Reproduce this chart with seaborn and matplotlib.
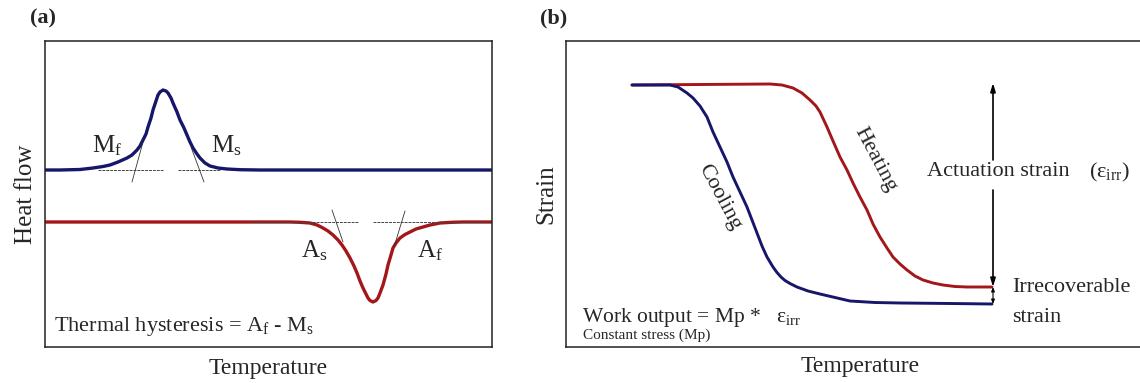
import matplotlib
matplotlib.use("Agg")
import matplotlib.pyplot as plt
import seaborn as sns
import pandas as pd

# ---------------- data ----------------
# Panel (a): DSC heat flow vs temperature (arbitrary units)
cool_T = [0, 15, 35, 48, 58, 65, 73, 82, 87, 92, 95, 98, 101, 103, 106, 108, 111, 113,
          115, 118, 121, 123, 126, 128, 132, 135, 139, 142, 145, 148, 152, 155, 160, 165,
          173, 182, 195, 215, 447]
cool_H = [177, 177, 177.5, 179, 180.5, 182, 185, 189, 192, 197, 201, 207, 213, 220, 229,
          237, 246, 252, 255, 257, 256, 254, 249, 244, 235, 227, 219, 212, 205, 199, 193,
          189, 184, 181, 179, 178, 177.3, 177, 177]
heat_T = [0, 245, 255, 265, 272, 278, 283, 288, 293, 297, 301, 305, 309, 312, 315, 318,
          321, 323, 325, 328, 331, 333, 335, 338, 341, 343, 346, 348, 351, 355, 360, 365,
          371, 378, 385, 395, 407, 418, 447]
heat_H = [125, 125, 124.7, 124, 122, 119, 116, 112, 107, 102, 96, 89, 81, 74, 66, 59, 53,
          49, 46.5, 45, 46.5, 49, 54, 62, 73, 82, 92, 99, 104, 109, 112.5, 115, 118, 120,
          122, 124, 124.7, 125, 125]
# tangent construction lines (onset / finish)
tan_blue = [((87, 165), (98, 205)), ((146, 200), (159, 165))]
tan_red = [((287, 137), (298, 105)), ((360, 136), (349, 100))]
base_blue = [(53, 118), (133, 175)]
base_red = [(205, 313), (328, 445)]
base_blue_y = 177
base_red_y = 125
labels_a = [(r"$\mathrm{M}_{\mathrm{f}}$", 47, 195), (r"$\mathrm{M}_{\mathrm{s}}$", 166, 195),
            (r"$\mathrm{A}_{\mathrm{s}}$", 256, 90), (r"$\mathrm{A}_{\mathrm{f}}$", 372, 90)]

# Panel (b): strain vs temperature
heatb_T = [66, 134, 204, 216, 227, 236, 244, 250, 254, 261, 267, 274, 281, 287, 294, 301,
           307, 314, 321, 327, 334, 341, 349, 357, 367, 377, 389, 401, 426]
heatb_S = [262, 262.5, 263, 262, 259, 254, 247, 241, 235, 220, 206, 190, 177, 164, 150,
           137, 123, 110, 99, 90, 83, 77, 71, 67, 64, 62, 60.5, 60, 60]
coolb_T = [66, 104, 112, 121, 127, 134, 141, 147, 154, 161, 167, 174, 181, 186, 191, 196,
           201, 207, 211, 215, 219, 224, 231, 242, 254, 284, 309, 334, 384, 426]
coolb_S = [262, 262, 260, 254, 249, 241, 230, 215, 200, 185, 170, 155, 140, 127, 114, 101,
           90, 80, 74.5, 70, 66.5, 63.5, 60, 56, 53, 46, 44.5, 44, 43.5, 43]
arrow_x = 427
act_top, act_gap_top, act_gap_bot, act_bot, irr_bot = 264, 187, 157, 60, 43

# ---------------- style ----------------
sns.set_style("white")
plt.rcParams["font.family"] = ["Liberation Serif", "DejaVu Serif"]
plt.rcParams["mathtext.fontset"] = "custom"
plt.rcParams["mathtext.rm"] = "Liberation Serif"
plt.rcParams["mathtext.it"] = "Liberation Serif:italic"
plt.rcParams["mathtext.bf"] = "Liberation Serif:bold"

BLUE = "#16166a"
RED = "#a3161a"
W, H = 1140, 383
fig = plt.figure(figsize=(W / 100, H / 100), dpi=100)

def box(l, t, r, b):
    return [l / W, 1 - b / H, (r - l) / W, (b - t) / H]

# ---------------- panel (a) ----------------
axa = fig.add_axes(box(45, 41, 492, 347))
dfa1 = pd.DataFrame({"T": cool_T, "H": cool_H})
dfa2 = pd.DataFrame({"T": heat_T, "H": heat_H})
sns.lineplot(data=dfa1, x="T", y="H", color=BLUE, lw=2.4, sort=False, ax=axa)
sns.lineplot(data=dfa2, x="T", y="H", color=RED, lw=2.4, sort=False, ax=axa)
for (x0, x1) in base_blue:
    axa.plot([x0, x1], [base_blue_y, base_blue_y], color="#444444", lw=0.7, ls=(0, (3, 1)), zorder=3)
for (x0, x1) in base_red:
    axa.plot([x0, x1], [base_red_y, base_red_y], color="#444444", lw=0.7, ls=(0, (3, 1)), zorder=3)
for (p0, p1) in tan_blue + tan_red:
    axa.plot([p0[0], p1[0]], [p0[1], p1[1]], color="#333333", lw=0.6, zorder=3)
for s, x, y in labels_a:
    axa.text(x, y, s, fontsize=18, ha="left", va="baseline")
axa.text(9, 16, r"Thermal hysteresis = $\mathrm{A}_{\mathrm{f}}$ - $\mathrm{M}_{\mathrm{s}}$",
         fontsize=16, ha="left", va="baseline")
axa.set_xlim(0, 447)
axa.set_ylim(0, 306)
axa.set_xticks([])
axa.set_yticks([])
axa.set_xlabel("Temperature", fontsize=17, labelpad=8)
axa.set_ylabel("Heat flow", fontsize=18, labelpad=6)
for sp in axa.spines.values():
    sp.set_linewidth(1.1)
    sp.set_color("#222222")

# ---------------- panel (b) ----------------
axb = fig.add_axes(box(566, 41, 1140, 347))
dfb1 = pd.DataFrame({"T": heatb_T, "S": heatb_S})
dfb2 = pd.DataFrame({"T": coolb_T, "S": coolb_S})
sns.lineplot(data=dfb1, x="T", y="S", color=RED, lw=2.1, sort=False, ax=axb)
sns.lineplot(data=dfb2, x="T", y="S", color=BLUE, lw=2.1, sort=False, ax=axb)
arr = dict(arrowstyle="-|>,head_length=0.5,head_width=0.15", color="black", lw=1.2,
           shrinkA=0, shrinkB=0)
axb.annotate("", xy=(arrow_x, act_top), xytext=(arrow_x, act_gap_top), arrowprops=arr)
axb.annotate("", xy=(arrow_x, act_bot), xytext=(arrow_x, act_gap_bot), arrowprops=arr)
axb.annotate("", xy=(arrow_x, irr_bot), xytext=(arrow_x, act_bot),
             arrowprops=dict(arrowstyle="<|-|>,head_length=0.25,head_width=0.1",
                             color="black", lw=0.8, shrinkA=0, shrinkB=0))
axb.text(361, 175, "Actuation strain", fontsize=16, ha="left", va="center")
axb.text(523, 175, r"($\mathrm{ε}_{\mathrm{irr}}$)", fontsize=16, ha="left", va="center")
axb.text(446, 59, "Irrecoverable", fontsize=16, ha="left", va="center")
axb.text(446, 29, "strain", fontsize=16, ha="left", va="center")
axb.text(309, 187, "Heating", fontsize=16, ha="center", va="center", rotation=-62,
         rotation_mode="anchor")
axb.text(153, 150, "Cooling", fontsize=16, ha="center", va="center", rotation=-62,
         rotation_mode="anchor")
axb.text(16, 25, r"Work output = Mp *   $\mathrm{ε}_{\mathrm{irr}}$", fontsize=15.5,
         ha="left", va="baseline")
axb.text(17, 12, "Constant stress (Mp)", fontsize=11, ha="left", va="center")
axb.set_xlim(0, 574)
axb.set_ylim(0, 306)
axb.set_xticks([])
axb.set_yticks([])
axb.set_xlabel("Temperature", fontsize=17)
axb.set_ylabel("Strain", fontsize=18, labelpad=6)
axb.xaxis.set_label_coords((860 - 566) / 574, -0.03)
for sp in axb.spines.values():
    sp.set_linewidth(1.1)
    sp.set_color("#222222")
axb.spines["right"].set_visible(False)

fig.text(30 / W, 1 - 18 / H, "(a)", fontsize=16, fontweight="bold", ha="left", va="center")
fig.text(540 / W, 1 - 18 / H, "(b)", fontsize=16, fontweight="bold", ha="left", va="center")

fig.savefig("out.png", dpi=100)
